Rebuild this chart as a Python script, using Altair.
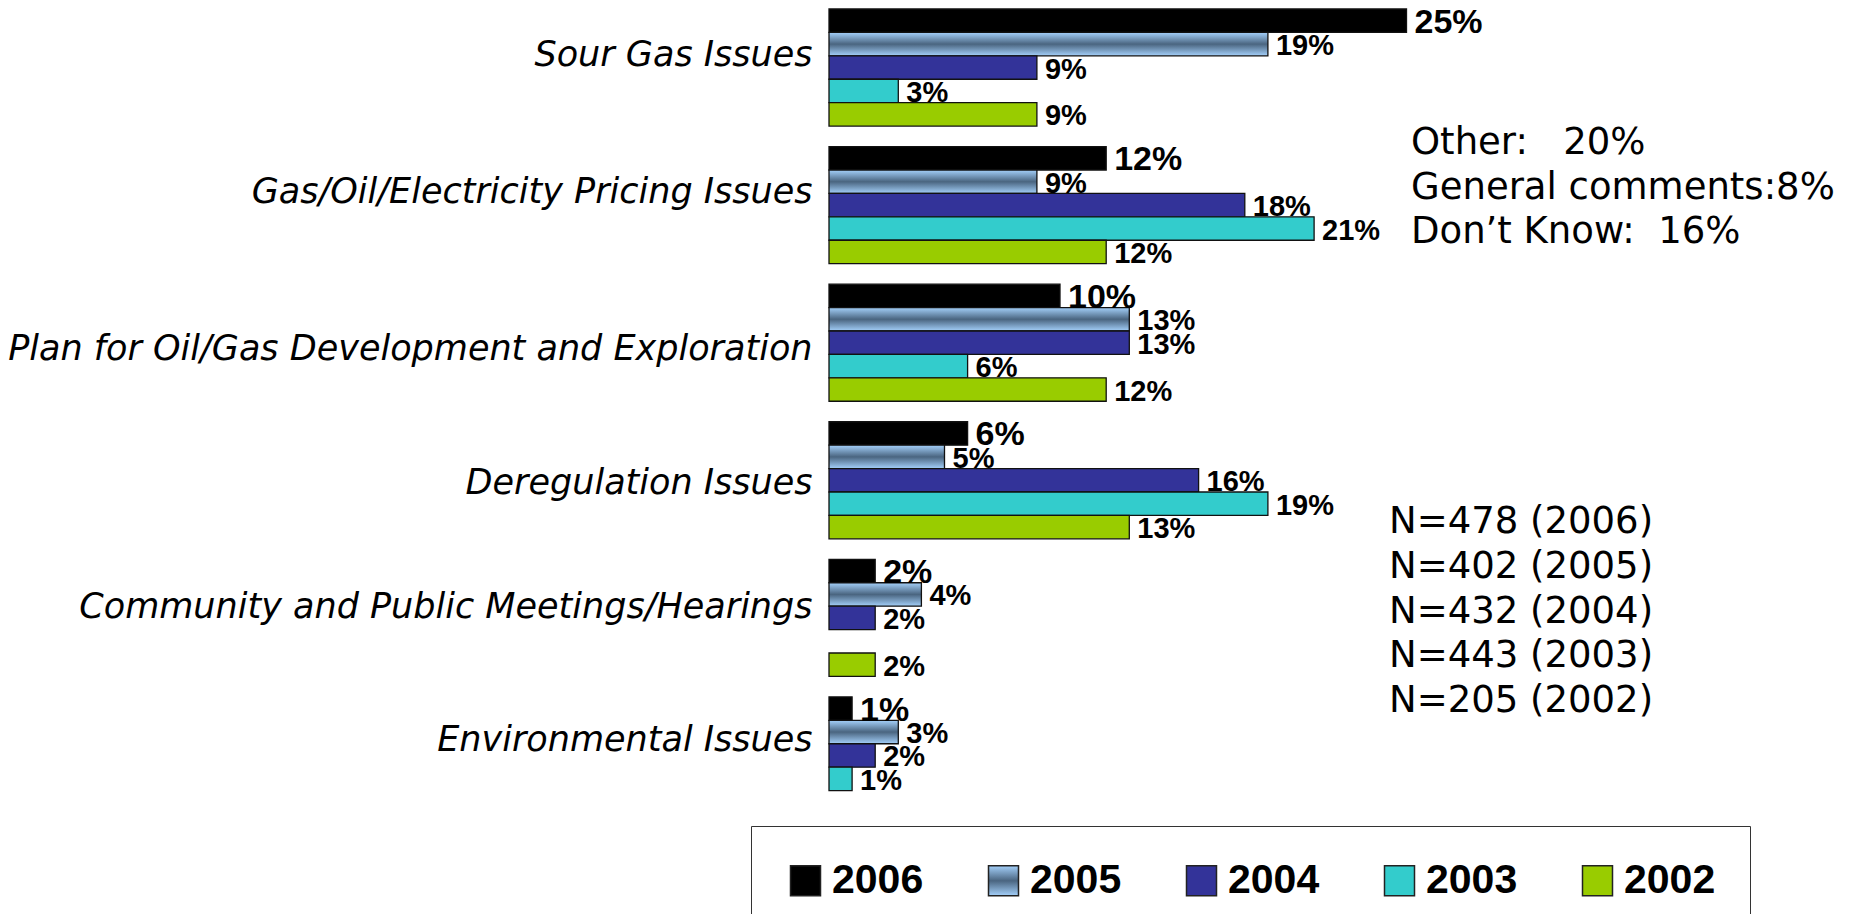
import altair as alt
import pandas as pd

categories = [
    "Sour Gas Issues",
    "Gas/Oil/Electricity Pricing Issues",
    "Plan for Oil/Gas Development and Exploration",
    "Deregulation Issues",
    "Community and Public Meetings/Hearings",
    "Environmental Issues",
]
years = ["2006", "2005", "2004", "2003", "2002"]
v2006 = [25, 12, 10, 6, 2, 1]
v2005 = [19, 9, 13, 5, 4, 3]
v2004 = [9, 18, 13, 16, 2, 2]
v2003 = [3, 21, 6, 19, None, 1]
v2002 = [9, 12, 12, 13, 2, None]
series = {"2006": v2006, "2005": v2005, "2004": v2004, "2003": v2003, "2002": v2002}

NB = "\u00a0"
notes_other = ["Other:" + NB * 3 + "20%", "General comments:8%", "Don\u2019t Know:" + NB * 2 + "16%"]
notes_n = ["N=478 (2006)", "N=402 (2005)", "N=432 (2004)", "N=443 (2003)", "N=205 (2002)"]

grad_2005 = ("{gradient: 'linear', x1: 0, y1: 0, x2: 0, y2: 1, stops: ["
             "{offset: 0, color: '#a4d0fa'}, {offset: 0.5, color: '#4a6580'}, "
             "{offset: 1, color: '#a4d0fa'}]}")
colors = ["#000000", {"expr": grad_2005}, "#333399", "#33cccc", "#99cc00"]

rows = []
for y in years:
    for c, v in zip(categories, series[y]):
        if v is None:
            continue
        rows.append({"Issue": c, "Year": y, "Value": v, "Label": f"{v}%"})
df = pd.DataFrame(rows)

# per-category vertical nudge of the axis labels (as in the original slide)
label_nudge = [-13, -13, 6, 3, -11, -15]
label_offset = {
    "condition": [
        {"test": f"datum.value == '{c}'", "value": o}
        for c, o in zip(categories, label_nudge)
    ],
    "value": -13,
}

y_enc = alt.Y(
    "Issue:N", sort=categories,
    scale=alt.Scale(paddingInner=0.149, paddingOuter=0),
    axis=alt.Axis(title=None, ticks=False, domain=False, grid=False,
                  labelFont="DejaVu Sans", labelFontStyle="italic", labelFontSize=35,
                  labelColor="black", labelPadding=17, labelOffset=label_offset,
                  labelLimit=1000),
)
yoff = alt.YOffset("Year:N", sort=years, scale=alt.Scale(domain=years, paddingInner=0, paddingOuter=0))
x_enc = alt.X("Value:Q", scale=alt.Scale(domain=[0, 40]), axis=None)

bars = alt.Chart(df).mark_bar(stroke="#111111", strokeWidth=1.3).encode(
    y=y_enc, yOffset=yoff, x=x_enc,
    color=alt.Color(
        "Year:N", sort=years,
        scale=alt.Scale(domain=years, range=colors),
        legend=alt.Legend(
            orient="none", legendX=-78, legendY=817, direction="horizontal", columns=5,
            title=None, symbolType="square", symbolSize=900, symbolStrokeColor="#222222",
            symbolStrokeWidth=1.5, symbolOpacity=1,
            labelFont="Liberation Sans", labelFontWeight="bold", labelFontSize=41,
            labelColor="black", labelOffset=6, columnPadding=59, padding=34,
            strokeColor="#333333", fillColor="white",
        ),
    ),
)

labels = alt.Chart(df).mark_text(
    align="left", baseline="middle", dx=8, dy=2,
    font="Liberation Sans", fontWeight="bold", color="black",
).encode(
    y=y_enc, yOffset=yoff, x=x_enc,
    text=alt.Text("Label:N"),
    size=alt.condition("datum.Year == '2006'", alt.value(34), alt.value(29)),
)

one = pd.DataFrame({"k": [0]})
other_text = alt.Chart(one).mark_text(
    align="left", baseline="alphabetic", font="DejaVu Sans", fontSize=37,
    lineBreak="\n", lineHeight=44.5, color="black",
).encode(x=alt.value(582), y=alt.value(145), text=alt.value("\n".join(notes_other)))

n_text = alt.Chart(one).mark_text(
    align="left", baseline="alphabetic", font="DejaVu Sans", fontSize=37,
    lineBreak="\n", lineHeight=44.8, color="black",
).encode(x=alt.value(560), y=alt.value(524), text=alt.value("\n".join(notes_n)))

chart = alt.layer(bars, labels, other_text, n_text).properties(
    width=924, height=805,
    padding={"left": 821, "top": 1, "right": 89, "bottom": 100},
    autosize=alt.AutoSizeParams(type="none"),
).configure_view(stroke=None)

chart.save("out.html", embed_options={"renderer": "svg", "actions": False})
